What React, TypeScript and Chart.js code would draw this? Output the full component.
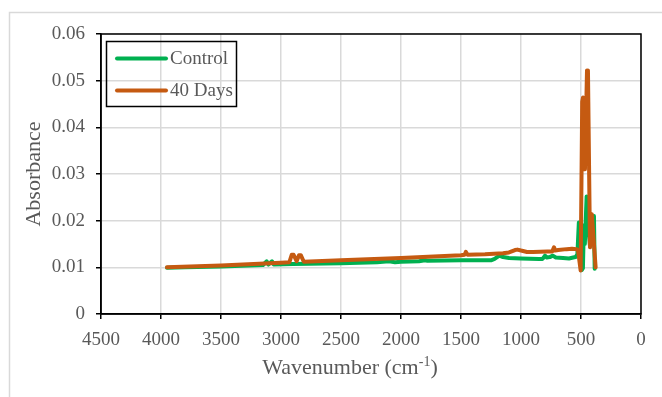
import React, { useEffect, useRef } from "react";
import { Chart, registerables } from "chart.js";

Chart.register(...registerables);

// ---- Data ----
const controlWavenumber = [
  3950, 3800, 3500, 3150, 3120, 3105, 3075, 3060, 2900, 2500, 2200, 2100, 2050, 2000, 1850, 1800, 1780,
  1500, 1250, 1220, 1180, 1150, 1100, 1000, 850, 820, 800, 785, 760, 735, 710, 650, 600, 565, 545, 530,
  518, 505, 494, 484, 476, 468, 453, 440, 425, 410, 392, 386,
];
const controlAbsorbance = [
  0.0099, 0.01, 0.0102, 0.0105, 0.0113, 0.0106, 0.0113, 0.0106, 0.0107, 0.0109, 0.0111, 0.0113, 0.0111,
  0.0112, 0.0113, 0.0115, 0.0114, 0.0115, 0.0115, 0.0118, 0.0125, 0.0122, 0.012, 0.0119, 0.0118, 0.0118,
  0.0125, 0.0121, 0.0122, 0.0125, 0.0121, 0.012, 0.0119, 0.0121, 0.0122, 0.0128, 0.0196, 0.011, 0.0094,
  0.0098, 0.019, 0.015, 0.0252, 0.019, 0.0145, 0.016, 0.021, 0.0097,
];

const days40Wavenumber = [
  3950, 3500, 3000, 2930, 2910, 2895, 2870, 2850, 2835, 2810, 2500, 2000, 1500, 1470, 1460, 1445, 1300,
  1150, 1100, 1050, 1030, 1000, 950, 900, 780, 740, 725, 715, 690, 620, 575, 540, 525, 503, 490, 483,
  467, 450, 442, 425, 410, 378,
];
const days40Absorbance = [
  0.01, 0.0104, 0.011, 0.0111, 0.0127, 0.0127, 0.0113, 0.0126, 0.0126, 0.0112, 0.0115, 0.012, 0.0126,
  0.0127, 0.0133, 0.0127, 0.0128, 0.013, 0.0132, 0.0137, 0.0138, 0.0136, 0.0133, 0.0133, 0.0134, 0.0134,
  0.0143, 0.0136, 0.0137, 0.0139, 0.014, 0.0139, 0.0137, 0.0093, 0.0455, 0.0464, 0.031, 0.0522, 0.052,
  0.0143, 0.0214, 0.01,
];

const seriesLabels = ["Control", "40 Days"];
const seriesColors = ["#00B050", "#C55A11"];

const xTicks = [4500, 4000, 3500, 3000, 2500, 2000, 1500, 1000, 500, 0];
const yTicks = [0, 0.01, 0.02, 0.03, 0.04, 0.05, 0.06];

const FONT = "'Liberation Serif', 'Times New Roman', serif";
const TEXT_COLOR = "#595959";

export default function App() {
  const canvasRef = useRef<HTMLCanvasElement | null>(null);

  useEffect(() => {
    const canvas = canvasRef.current;
    if (!canvas) return;

    const toPoints = (xs: number[], ys: number[]) => xs.map((x, i) => ({ x, y: ys[i] }));

    const framePlugin = {
      id: "frame",
      beforeDraw(chart: any) {
        const ctx = chart.ctx;
        ctx.save();
        ctx.fillStyle = "#ffffff";
        ctx.fillRect(0, 0, chart.width, chart.height);
        ctx.strokeStyle = "#D9D9D9";
        ctx.lineWidth = 1.5;
        ctx.strokeRect(9.5, 12.5, 800, 500);
        ctx.restore();
      },
      afterDraw(chart: any) {
        const ctx = chart.ctx;
        const a = chart.chartArea;
        ctx.save();
        // plot area border
        ctx.strokeStyle = "#000000";
        ctx.lineWidth = 1.5;
        ctx.strokeRect(a.left, a.top, a.right - a.left, a.bottom - a.top);

        // legend
        const lx = 106.5;
        const ly = 41.5;
        ctx.lineWidth = 1.5;
        ctx.strokeRect(lx, ly, 130, 65);
        ctx.font = `19px ${FONT}`;
        ctx.textBaseline = "middle";
        ctx.textAlign = "left";
        const rows = [58.5, 90.5];
        seriesLabels.forEach((label, i) => {
          ctx.strokeStyle = seriesColors[i];
          ctx.lineWidth = 4;
          ctx.lineCap = "round";
          ctx.beginPath();
          ctx.moveTo(117, rows[i]);
          ctx.lineTo(166, rows[i]);
          ctx.stroke();
          ctx.fillStyle = TEXT_COLOR;
          ctx.fillText(label, 170, rows[i] + 1);
        });

        // x-axis title with superscript
        const main1 = "Wavenumber (cm";
        const sup = "-1";
        const main2 = ")";
        ctx.font = `22px ${FONT}`;
        const w1 = ctx.measureText(main1).width;
        const w3 = ctx.measureText(main2).width;
        ctx.font = `14px ${FONT}`;
        const w2 = ctx.measureText(sup).width;
        const total = w1 + w2 + w3;
        const cx = 350;
        const baseY = 374;
        let x = cx - total / 2;
        ctx.fillStyle = TEXT_COLOR;
        ctx.textBaseline = "alphabetic";
        ctx.font = `22px ${FONT}`;
        ctx.fillText(main1, x, baseY);
        x += w1;
        ctx.font = `14px ${FONT}`;
        ctx.fillText(sup, x, baseY - 8);
        x += w2;
        ctx.font = `22px ${FONT}`;
        ctx.fillText(main2, x, baseY);
        ctx.restore();
      },
    };

    const chart = new Chart(canvas, {
      type: "line",
      data: {
        datasets: [
          {
            label: seriesLabels[0],
            data: toPoints(controlWavenumber, controlAbsorbance),
            borderColor: seriesColors[0],
            backgroundColor: seriesColors[0],
            borderWidth: 4,
            pointRadius: 0,
            tension: 0,
            fill: false,
            borderCapStyle: "round",
            borderJoinStyle: "round",
            order: 1,
          },
          {
            label: seriesLabels[1],
            data: toPoints(days40Wavenumber, days40Absorbance),
            borderColor: seriesColors[1],
            backgroundColor: seriesColors[1],
            borderWidth: 4,
            pointRadius: 0,
            tension: 0,
            fill: false,
            borderCapStyle: "round",
            borderJoinStyle: "round",
            order: 0,
          },
        ],
      },
      options: {
        animation: false,
        responsive: false,
        maintainAspectRatio: false,
        devicePixelRatio: 1,
        layout: { padding: { top: 34, right: 21, left: 0, bottom: 0 } },
        plugins: {
          legend: { display: false },
          tooltip: { enabled: false },
        },
        scales: {
          x: {
            type: "linear",
            reverse: true,
            min: 0,
            max: 4500,
            afterBuildTicks: (scale: any) => {
              scale.ticks = xTicks.map((v) => ({ value: v }));
            },
            afterFit: (scale: any) => {
              scale.height = 83;
            },
            ticks: {
              autoSkip: false,
              maxRotation: 0,
              padding: 10,
              color: TEXT_COLOR,
              font: { family: FONT, size: 19 },
              callback: (v: any) => String(v),
            },
            grid: {
              color: "#D9D9D9",
              lineWidth: 1.5,
              tickColor: "#000000",
              tickLength: 5,
              drawTicks: true,
            },
            border: { display: true, color: "#000000", width: 1.5 },
          },
          y: {
            type: "linear",
            min: 0,
            max: 0.06,
            afterBuildTicks: (scale: any) => {
              scale.ticks = yTicks.map((v) => ({ value: v }));
            },
            afterFit: (scale: any) => {
              scale.width = 101;
            },
            ticks: {
              padding: 11,
              color: TEXT_COLOR,
              font: { family: FONT, size: 19 },
              callback: (v: any) => String(Number(Number(v).toFixed(2))),
            },
            grid: {
              color: "#D9D9D9",
              lineWidth: 1.5,
              tickColor: "#000000",
              tickLength: 5,
              drawTicks: true,
            },
            border: { display: true, color: "#000000", width: 1.5 },
            title: {
              display: true,
              text: "Absorbance",
              color: TEXT_COLOR,
              font: { family: FONT, size: 22, weight: "normal" },
              padding: { top: 21, bottom: 0 },
            },
          },
        },
      },
      plugins: [framePlugin],
    } as any);

    return () => {
      chart.destroy();
    };
  }, []);

  return (
    <div style={{ position: "fixed", left: 0, top: 0, width: 662, height: 397, background: "#fff" }}>
      <canvas ref={canvasRef} width={662} height={397} style={{ display: "block", width: 662, height: 397 }} />
    </div>
  );
}
